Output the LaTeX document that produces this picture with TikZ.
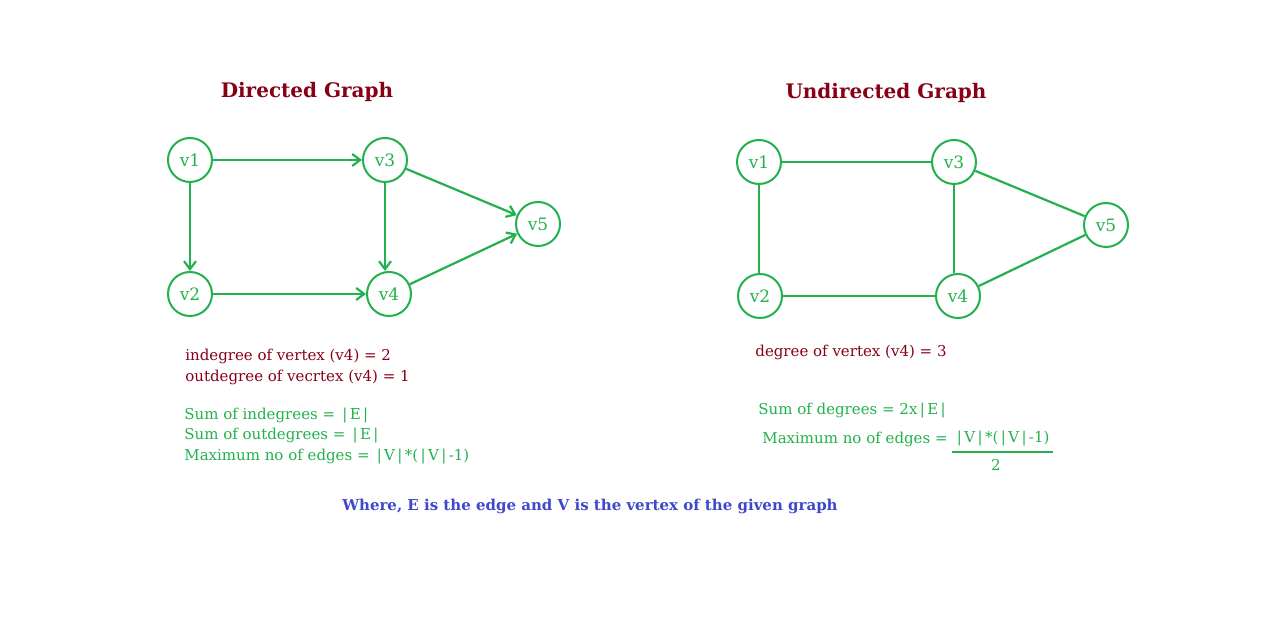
\documentclass[tikz,border=0pt]{standalone}
\usepackage{fontspec}
\setmainfont{DejaVu Serif}
\usetikzlibrary{arrows.meta,positioning}
\definecolor{pgreen}{RGB}{34,177,76}
\definecolor{pred}{RGB}{136,0,21}
\definecolor{pblue}{RGB}{63,72,204}
\newcommand{\pp}{\kern1.2pt|\kern1.2pt}

\begin{document}
\begin{tikzpicture}[
    x=0.5pt, y=-0.5pt,
    vert/.style={draw=pgreen, circle, line width=1pt, minimum size=22pt, inner sep=0pt, text=pgreen, font=\fontsize{8.5}{10}\selectfont},
    arr/.style={-{Straight Barb[length=4pt,width=6pt]}, line width=1.1pt, pgreen},
    edge/.style={line width=1.1pt, pgreen},
    ttl/.style={font=\fontsize{10}{12}\bfseries\selectfont, text=pred},
    info/.style={anchor=west, inner sep=0pt, font=\fontsize{7.5}{9}\selectfont, text=pred},
    rule/.style={anchor=west, inner sep=0pt, font=\fontsize{7.5}{9}\selectfont, text=pgreen},
    note/.style={font=\fontsize{7.5}{9}\bfseries\selectfont, text=pblue}
]
\useasboundingbox (0,0) rectangle (1280,624);

% directed graph
\node[ttl] (dtitle) at (307,92) {Directed Graph};
\node[vert] (d1) at (190,160) {v1};
\node[vert] (d3) at (385,160) {v3};
\node[vert] (d5) at (538,224) {v5};
\node[vert] (d2) at (190,294) {v2};
\node[vert] (d4) at (389,294) {v4};

\draw[arr] (d1) -- (d3);
\draw[arr] (d1) -- (d2);
\draw[arr] (d3.south) -- (d3.south |- d4.north);
\draw[arr] (d3) -- (d5);
\draw[arr] (d2) -- (d4);
\draw[arr] (d4) -- (d5);

\node[info] (din) at (185,356) {indegree of vertex (v4) = 2};
\node[info] (dout) at (185,377) {outdegree of vecrtex (v4) = 1};
\node[rule] (dsumin) at (184,416) {Sum of indegrees = \pp E\pp};
\node[rule] (dsumout) at (184,436) {Sum of outdegrees = \pp E\pp};
\node[rule] (dmax) at (184,457) {Maximum no of edges = \pp V\pp*(\pp V\pp-1)};

% undirected graph
\node[ttl] (utitle) at (886,93) {Undirected Graph};
\node[vert] (u1) at (759,162) {v1};
\node[vert] (u3) at (954,162) {v3};
\node[vert] (u5) at (1106,225) {v5};
\node[vert] (u2) at (760,296) {v2};
\node[vert] (u4) at (958,296) {v4};

\draw[edge] (u1) -- (u3);
\draw[edge] (u1.south) -- (u1.south |- u2.north);
\draw[edge] (u3.south) -- (u3.south |- u4.north);
\draw[edge] (u3) -- (u5);
\draw[edge] (u2) -- (u4);
\draw[edge] (u4) -- (u5);

\node[info] (udeg) at (755,352) {degree of vertex (v4) = 3};
\node[rule] (usum) at (758,411) {Sum of degrees = 2x\pp E\pp};
\node[rule] (umax) at (762,439) {Maximum no of edges =};
\node[rule, anchor=center] (unum) at (1002,439) {\pp V\pp*(\pp V\pp-1)};
\node[rule, anchor=center] (uden) at (996,465) {2};
\coordinate (fl) at (952,452);
\coordinate (fr) at (1053,452);
\draw[edge] (fl) -- (fr);

\node[note] (where) at (590,506) {Where, E is the edge and V is the vertex of the given graph};
\end{tikzpicture}
\end{document}
